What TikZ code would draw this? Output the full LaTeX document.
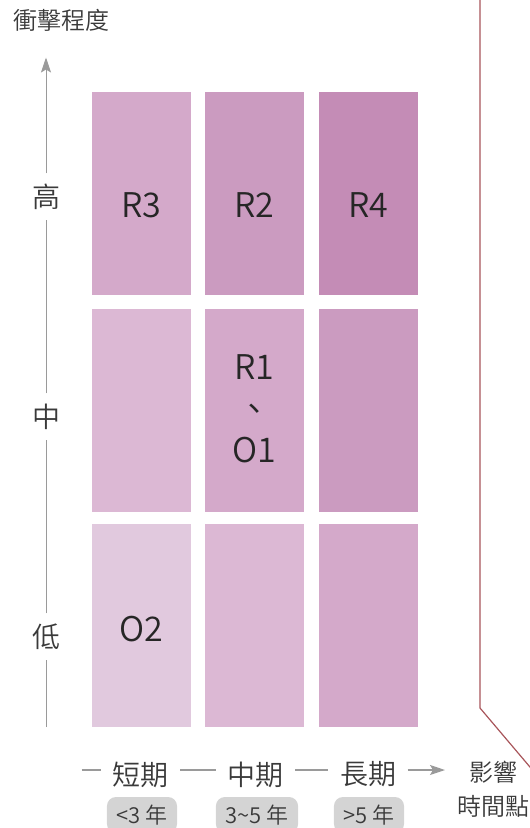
\documentclass[tikz,border=0pt]{standalone}
\usepackage{fontspec}
\setmainfont{Noto Sans CJK TC}[UprightFont={* DemiLight}]
\usetikzlibrary{arrows.meta}

\definecolor{heatA}{HTML}{E1C9DE}
\definecolor{heatB}{HTML}{DCB8D4}
\definecolor{heatC}{HTML}{D4A9CA}
\definecolor{heatD}{HTML}{CB9BC0}
\definecolor{heatE}{HTML}{C48CB6}
\definecolor{axisgray}{HTML}{9A9A9A}
\definecolor{spangray}{HTML}{D4D4D4}
\definecolor{edgered}{HTML}{A8555A}
\definecolor{textdark}{HTML}{3A3A3A}

\tikzset{
  cell/.style={minimum width=99pt, minimum height=203pt, inner sep=0pt},
  tag/.style={font=\fontsize{34}{41.5}\selectfont, text=black!85, align=center, inner sep=0pt},
  level/.style={font=\fontsize{28}{30}\selectfont, text=textdark, minimum height=46pt, inner sep=0pt},
  term/.style={font=\fontsize{28}{30}\selectfont, text=textdark, inner xsep=11.5pt, inner ysep=0pt},
  span/.style={font=\fontsize{22}{24}\selectfont, text=textdark, fill=spangray, rounded corners=9pt, minimum height=36pt, inner xsep=9.5pt},
  axis/.style={draw=axisgray, line width=1pt},
}

\begin{document}
\begin{tikzpicture}[x=1pt,y=-1pt]
    \useasboundingbox (0,0) rectangle (530,828);

    % 格子
    \node[cell, fill=heatC] (c11) at (141.5,193.5) {};
    \node[cell, fill=heatD] (c12) at (254.5,193.5) {};
    \node[cell, fill=heatE] (c13) at (368.5,193.5) {};
    \node[cell, fill=heatB] (c21) at (141.5,410) {};
    \node[cell, fill=heatC] (c22) at (254.5,410) {};
    \node[cell, fill=heatD] (c23) at (368.5,410) {};
    \node[cell, fill=heatA] (c31) at (141.5,625.5) {};
    \node[cell, fill=heatB] (c32) at (254.5,625.5) {};
    \node[cell, fill=heatC] (c33) at (368.5,625.5) {};

    % 風險與機會
    \node[tag] (R3) at (141.5,205) {R3};
    \node[tag] (R2) at (254.5,205) {R2};
    \node[tag] (R4) at (368.5,205) {R4};
    \node[tag] (R1O1) at (254.5,409) {R1\\、\\O1};
    \node[tag] (O2) at (141.5,629) {O2};

    % 縱軸
    \node[font=\fontsize{24}{26}\selectfont, text=textdark] (impact) at (61,20) {衝擊程度};
    \node[level] (high) at (46,196.5) {高};
    \node[level] (mid) at (46,416.5) {中};
    \node[level] (low) at (46,636.5) {低};
    \coordinate (ybot) at (46,727);
    \coordinate (ytop) at (46,57.5);

    \draw[axis] (ybot) -- (low);
    \draw[axis] (low) -- (mid);
    \draw[axis] (mid) -- (high);
    \draw[axis, -{Stealth[length=15pt,width=10pt,inset=3pt]}] (high) -- (ytop);

    % 橫軸
    \node[term] (short) at (140.4,774.5) {短期};
    \node[term] (medium) at (255.5,774.5) {中期};
    \node[term] (long) at (368,774.5) {長期};
    \node[font=\fontsize{24}{34}\selectfont, text=textdark, align=center] (timing) at (493,789) {影響\\時間點};
    \coordinate (xstart) at (81.5,770);
    \coordinate (xend) at (445,770);

    \draw[axis, line width=1.3pt] (xstart) -- (xstart -| short.west);
    \draw[axis, line width=1.3pt] (short.east |- xstart) -- (medium.west |- xstart);
    \draw[axis, line width=1.3pt] (medium.east |- xstart) -- (long.west |- xstart);
    \draw[axis, line width=1.3pt, -{Stealth[length=15pt,width=10pt,inset=3pt]}] (long.east |- xstart) -- (xend);

    \node[span] (lt3) at (142,815) {<3 年};
    \node[span] (r35) at (257,815) {3\textasciitilde5 年};
    \node[span] (gt5) at (369,815) {>5 年};

    % 紅線
    \coordinate (redtop) at (480,-2);
    \coordinate (redbend) at (480,708);
    \coordinate (redend) at (538,776.5);
    \draw[edgered, line width=1.2pt] (redtop) -- (redbend) -- (redend);
\end{tikzpicture}
\end{document}
